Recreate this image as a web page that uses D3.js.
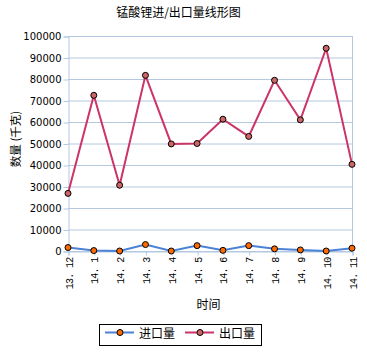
<!DOCTYPE html>
<html>
<head>
<meta charset="utf-8">
<script src="https://cdn.jsdelivr.net/npm/d3@7"></script>
<style>
  body { margin: 0; background: #fff; }
  text { font-family: "Noto Sans CJK SC", "DejaVu Sans", sans-serif; }
</style>
</head>
<body>
<svg id="chart" width="367" height="352"></svg>
<script>
const months = ["13. 12", "14. 1", "14. 2", "14. 3", "14. 4", "14. 5", "14. 6", "14. 7", "14. 8", "14. 9", "14. 10", "14. 11"];
const importVals = [1600, 200, 0, 3000, 0, 2500, 300, 2500, 1000, 500, 0, 1300];
const exportVals = [26800, 72400, 30600, 81700, 49800, 50000, 61300, 53300, 79400, 61000, 94300, 40300];
const yTicks = [0, 10000, 20000, 30000, 40000, 50000, 60000, 70000, 80000, 90000, 100000];

const svg = d3.select("#chart");
const plot = { left: 68, right: 352, top: 36, bottom: 251 };

const x = d3.scalePoint().domain(months).range([plot.left, plot.right]).padding(0);
const y = d3.scaleLinear().domain([0, 100000]).range([plot.bottom, plot.top]);

// gridlines
svg.append("g")
  .selectAll("line")
  .data(yTicks)
  .enter()
  .append("line")
  .attr("x1", plot.left)
  .attr("x2", plot.right)
  .attr("y1", (d) => y(d) + 0.5)
  .attr("y2", (d) => y(d) + 0.5)
  .attr("stroke", "#b4c8e0")
  .attr("stroke-width", 1);

// right border
svg.append("line")
  .attr("x1", plot.right + 0.5).attr("x2", plot.right + 0.5)
  .attr("y1", plot.top).attr("y2", plot.bottom)
  .attr("stroke", "#b4c8e0");

// Y axis
svg.append("g")
  .attr("transform", `translate(${plot.left + 0.5},0.5)`)
  .call(d3.axisLeft(y).tickValues(yTicks).tickSize(5).tickPadding(2).tickFormat(d3.format("d")))
  .call((g) => g.selectAll(".domain, .tick line").attr("stroke", "#b4c8e0"))
  .call((g) => g.selectAll("text").style("font-size", "10px").style("fill", "#000").style("font-family", "DejaVu Sans, sans-serif"));

// X axis
svg.append("g")
  .attr("transform", `translate(0.5,${plot.bottom + 0.5})`)
  .call(d3.axisBottom(x).tickSize(4).tickPadding(0))
  .call((g) => g.selectAll(".domain, .tick line").attr("stroke", "#b4c8e0"))
  .call((g) =>
    g.selectAll("text")
      .style("font-size", "10px")
      .style("letter-spacing", "-0.7px")
      .style("fill", "#000")
      .style("font-family", "Liberation Mono, monospace")
      .attr("transform", "rotate(-90)")
      .attr("text-anchor", "end")
      .attr("x", -6)
      .attr("y", 0)
      .attr("dy", "0.35em")
  );

const line = d3.line().x((d, i) => x(months[i])).y((d) => y(d));

const series = [
  { name: "进口量", values: importVals, color: "#4a82d6", marker: "#ff6a00" },
  { name: "出口量", values: exportVals, color: "#cc3366", marker: "#cc6666" },
];

series.forEach((s) => {
  svg.append("path")
    .datum(s.values)
    .attr("d", line)
    .attr("fill", "none")
    .attr("stroke", s.color)
    .attr("stroke-width", 2);
  svg.append("g")
    .selectAll("circle")
    .data(s.values)
    .enter()
    .append("circle")
    .attr("cx", (d, i) => x(months[i]))
    .attr("cy", (d) => y(d))
    .attr("r", 3)
    .attr("fill", s.marker)
    .attr("stroke", "#000")
    .attr("stroke-width", 1);
});

// title
svg.append("text")
  .attr("x", 178.5).attr("y", 17)
  .attr("text-anchor", "middle")
  .style("font-size", "12px")
  .text("锰酸锂进/出口量线形图");

// axis titles
svg.append("text")
  .attr("transform", "translate(20,139) rotate(-90)")
  .attr("text-anchor", "middle")
  .style("font-size", "11.5px")
  .text("数量 (千克)");

svg.append("text")
  .attr("x", 208.5).attr("y", 309)
  .attr("text-anchor", "middle")
  .style("font-size", "12px")
  .text("时间");

// legend
const legend = svg.append("g");
legend.append("rect")
  .attr("x", 99.5).attr("y", 324.5)
  .attr("width", 162).attr("height", 21)
  .attr("fill", "#fff")
  .attr("stroke", "#000");

series.forEach((s, i) => {
  const lx = 105 + i * 80;
  const g = legend.append("g");
  g.append("line")
    .attr("x1", lx).attr("x2", lx + 29)
    .attr("y1", 332.5).attr("y2", 332.5)
    .attr("stroke", s.color).attr("stroke-width", 2);
  g.append("circle")
    .attr("cx", lx + 15).attr("cy", 332.5).attr("r", 3)
    .attr("fill", s.marker).attr("stroke", "#000");
  g.append("text")
    .attr("x", lx + 34).attr("y", 337.5)
    .style("font-size", "12px")
    .text(s.name);
});
</script>
</body>
</html>
